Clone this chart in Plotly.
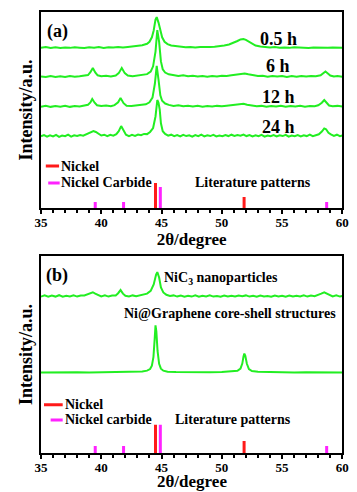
import plotly.graph_objects as go

# ---------------- data ----------------
# XRD patterns: (2theta, intensity above own baseline), panel units
pattern_05h = [(35,0.2),(35.4,0.5),(35.8,0.1),(36.2,0.4),(36.6,0.0),(37,0.3),(37.4,0.1),(37.8,0.4),(38.2,0.2),(38.6,0.0),
               (39,0.4),(39.4,0.2),(39.8,0.5),(40.2,0.1),(40.6,0.4),(41,0.3),(41.4,0.6),(41.8,0.3),(42.2,0.6),(42.6,0.8),
               (43,1.0),(43.4,1.4),(43.8,2.2),(44.0,3.2),(44.2,5.5),(44.35,9.0),(44.5,14.5),(44.6,15.8),(44.75,13.0),(44.9,8.5),
               (45.05,5.5),(45.25,3.2),(45.5,2.0),(45.8,1.3),(46.2,0.9),(46.6,0.7),(47,0.4),(47.4,0.6),(47.8,0.3),(48.2,0.5),
               (48.6,0.4),(49,0.6),(49.4,0.7),(49.8,0.9),(50.2,1.3),(50.6,1.8),(51.0,2.6),(51.3,3.6),(51.55,4.4),(51.8,4.6),
               (52.0,4.2),(52.25,3.3),(52.5,2.2),(52.8,1.3),(53.2,0.8),(53.6,0.5),(54,0.3),(54.4,0.5),(54.8,0.2),(55.2,0.3),
               (55.6,0.1),(56,0.4),(56.4,0.2),(56.8,0.3),(57.2,0.0),(57.6,0.3),(58,0.2),(58.4,0.4),(58.8,0.1),(59.2,0.3),
               (59.6,0.2),(60,0.1)]

pattern_6h = [(35,0.3),(35.4,0.0),(35.8,0.5),(36.2,0.1),(36.6,0.4),(37,0.0),(37.4,0.5),(37.8,0.2),(38.2,0.4),(38.6,0.6),
              (38.9,1.0),(39.1,2.5),(39.3,4.6),(39.5,2.4),(39.7,0.9),(40.0,0.4),(40.4,0.7),(40.8,0.3),(41.2,0.8),(41.45,2.0),
              (41.7,4.6),(41.95,2.0),(42.2,0.8),(42.6,0.4),(43.0,0.8),(43.4,0.9),(43.8,1.5),(44.1,2.8),(44.3,5.5),(44.5,13.0),
              (44.65,24.0),(44.8,18.0),(44.95,8.0),(45.1,4.0),(45.3,2.3),(45.6,1.4),(46.0,0.8),(46.4,0.5),(46.8,0.9),(47.2,0.4),
              (47.6,0.7),(48.0,0.3),(48.4,0.6),(48.8,0.2),(49.2,0.6),(49.6,0.3),(50.0,0.7),(50.4,0.5),(50.8,0.9),(51.2,1.1),
              (51.6,1.5),(51.9,1.8),(52.2,1.4),(52.6,0.9),(53.0,0.5),(53.4,0.7),(53.8,0.2),(54.2,0.6),(54.6,0.3),(55.0,0.5),
              (55.4,0.1),(55.8,0.5),(56.2,0.2),(56.6,0.6),(57.0,0.3),(57.4,0.5),(57.8,0.4),(58.2,0.9),(58.45,2.0),(58.6,2.8),
              (58.8,1.8),(59.0,0.8),(59.3,0.3),(59.6,0.6),(60,0.2)]

pattern_12h = [(35,0.2),(35.4,0.6),(35.8,0.1),(36.2,0.5),(36.6,0.2),(37,0.6),(37.4,0.1),(37.8,0.5),(38.2,0.3),(38.6,0.7),
               (38.9,1.2),(39.1,2.4),(39.25,4.1),(39.45,2.2),(39.65,0.9),(40.0,0.5),(40.4,0.8),(40.8,0.4),(41.1,1.0),(41.4,2.4),
               (41.6,4.6),(41.85,2.0),(42.1,0.7),(42.5,0.5),(42.9,0.9),(43.3,1.0),(43.7,1.4),(44.0,2.4),(44.25,4.8),(44.45,12.0),
               (44.6,21.0),(44.75,14.0),(44.9,6.0),(45.05,3.2),(45.3,1.8),(45.6,1.1),(46.0,0.6),(46.4,0.9),(46.8,0.4),(47.2,0.7),
               (47.6,0.3),(48.0,0.6),(48.4,0.2),(48.8,0.5),(49.2,0.3),(49.6,0.6),(50.0,0.4),(50.4,0.7),(50.8,0.9),(51.2,1.1),
               (51.5,1.4),(51.8,1.7),(52.1,1.2),(52.5,0.7),(52.9,0.4),(53.3,0.6),(53.7,0.2),(54.1,0.5),(54.5,0.3),(54.9,0.6),
               (55.3,0.2),(55.7,0.5),(56.1,0.3),(56.5,0.6),(56.9,0.2),(57.3,0.5),(57.7,0.4),(58.0,0.9),(58.3,2.2),(58.5,3.6),
               (58.7,1.9),(58.9,0.8),(59.2,0.4),(59.6,0.6),(60,0.3)]

pattern_24h = [(35,0.4),(35.25,1.0),(35.5,0.2),(35.75,0.9),(36.0,0.3),(36.25,1.1),(36.5,0.1),(36.75,0.8),(37.0,0.4),(37.25,1.2),
               (37.5,0.2),(37.75,0.9),(38.0,0.5),(38.25,1.0),(38.5,0.7),(38.75,1.4),(39.0,2.2),(39.2,2.9),(39.35,3.1),(39.55,2.6),
               (39.75,1.6),(40.0,0.8),(40.25,1.2),(40.5,0.4),(40.75,1.1),(41.0,0.7),(41.25,1.5),(41.45,3.0),(41.65,5.6),(41.85,3.0),
               (42.05,1.2),(42.3,0.5),(42.55,1.1),(42.8,0.6),(43.05,1.3),(43.3,0.9),(43.55,1.6),(43.8,1.5),(44.05,2.6),(44.3,4.6),
               (44.5,10.5),(44.65,18.9),(44.75,17.5),(44.85,14.0),(44.95,7.0),(45.1,3.0),(45.3,1.6),(45.55,0.7),(45.8,1.2),(46.05,0.4),
               (46.3,1.0),(46.55,0.3),(46.8,1.1),(47.05,0.5),(47.3,0.9),(47.55,0.2),(47.8,1.0),(48.05,0.4),(48.3,1.2),(48.55,0.3),
               (48.8,0.9),(49.05,0.5),(49.3,1.1),(49.55,0.3),(49.8,0.8),(50.05,0.4),(50.3,1.0),(50.55,0.5),(50.8,1.2),(51.05,0.6),
               (51.3,1.0),(51.55,0.7),(51.8,1.3),(52.05,0.5),(52.3,1.0),(52.55,0.3),(52.8,0.9),(53.05,0.4),(53.3,1.1),(53.55,0.2),
               (53.8,0.8),(54.05,0.4),(54.3,1.0),(54.55,0.3),(54.8,0.9),(55.05,0.5),(55.3,1.1),(55.55,0.2),(55.8,0.8),(56.05,0.4),
               (56.3,1.0),(56.55,0.3),(56.8,0.9),(57.05,0.5),(57.3,1.2),(57.55,0.4),(57.8,1.0),(58.05,1.4),(58.3,2.8),(58.5,4.4),
               (58.65,4.0),(58.85,2.2),(59.05,1.4),(59.3,0.6),(59.55,1.2),(59.8,0.4),(60,0.8)]

pattern_nic3 = [(35,0.3),(35.3,0.9),(35.6,0.2),(35.9,0.8),(36.2,0.3),(36.5,1.0),(36.8,0.2),(37.1,0.7),(37.4,0.4),(37.7,0.9),
                (38.0,0.3),(38.3,0.8),(38.6,0.9),(38.9,1.6),(39.1,2.3),(39.3,2.5),(39.5,1.8),(39.75,1.0),(40.0,0.4),(40.3,0.9),
                (40.6,0.3),(40.9,0.8),(41.2,0.9),(41.4,2.0),(41.6,3.6),(41.8,1.8),(42.0,0.7),(42.3,0.4),(42.6,0.9),(42.9,0.5),
                (43.2,1.0),(43.5,1.2),(43.8,1.8),(44.1,3.2),(44.35,6.5),(44.55,11.5),(44.65,12.7),(44.8,10.0),(44.95,5.0),(45.15,2.4),
                (45.4,1.2),(45.7,0.6),(46.0,0.9),(46.3,0.3),(46.6,0.8),(46.9,0.2),(47.2,0.7),(47.5,0.3),(47.8,0.9),(48.1,0.2),
                (48.4,0.7),(48.7,0.4),(49.0,0.9),(49.3,0.3),(49.6,0.6),(49.9,0.2),(50.2,0.8),(50.5,0.4),(50.8,0.7),(51.1,0.3),
                (51.4,0.8),(51.7,0.5),(52.0,0.9),(52.3,0.3),(52.6,0.7),(52.9,0.2),(53.2,0.8),(53.5,0.3),(53.8,0.6),(54.1,0.2),
                (54.4,0.8),(54.7,0.4),(55.0,0.7),(55.3,0.2),(55.6,0.8),(55.9,0.3),(56.2,0.7),(56.5,0.4),(56.8,0.9),(57.1,0.3),
                (57.4,0.8),(57.7,0.5),(58.0,1.0),(58.25,1.8),(58.5,2.5),(58.7,1.9),(58.9,0.9),(59.2,0.4),(59.5,0.9),(59.8,0.3),
                (60,0.6)]

pattern_nigr = [(35,0.1),(36,0.2),(37,0.1),(38,0.2),(39,0.1),(40,0.2),(41,0.2),(42,0.3),(42.8,0.4),(43.4,0.6),
                (43.8,1.0),(44.05,1.8),(44.2,3.5),(44.33,8.0),(44.43,17.0),(44.5,24.0),(44.57,21.0),(44.67,11.0),(44.8,4.5),(44.95,2.0),
                (45.15,1.0),(45.5,0.5),(46.2,0.3),(47,0.2),(48,0.2),(49,0.2),(50,0.3),(50.8,0.5),(51.3,0.9),(51.55,2.0),
                (51.7,4.6),(51.8,8.2),(51.87,9.7),(51.95,8.5),(52.08,4.5),(52.25,1.8),(52.5,0.8),(53,0.4),(54,0.2),(55,0.2),
                (56,0.1),(57,0.2),(58,0.1),(59,0.2),(60,0.1)]

labels_a = ["0.5 h", "6 h", "12 h", "24 h"]
offsets_a = [81.6, 66.8, 51.5, 36.2]
labels_b = ["NiC<sub>3</sub> nanoparticles", "Ni@Graphene core-shell structures"]
offsets_b = [79.1, 40.8]

# literature stick patterns
nickel_pos = [44.5, 51.85]
nickel_h_a = [12.8, 5.6]
nickel_h_b = [14.3, 6.1]
carbide_pos = [39.5, 41.85, 44.9, 58.7]
carbide_h_a = [3.1, 3.1, 10.7, 3.1]
carbide_h_b = [3.6, 3.6, 14.3, 3.6]

x_ticks = [35, 40, 45, 50, 55, 60]
x_title = "2θ/degree"

# ---------------- figure ----------------
GREEN = "#22ee22"
RED = "#ff1a1a"
MAG = "#ff22ff"
FONT = "Liberation Serif"

fig = go.Figure()


def add_pattern(pat, off, xa, ya):
    xs = [p[0] for p in pat]
    ys = [p[1] + off for p in pat]
    fig.add_trace(go.Scatter(x=xs, y=ys, mode="lines", line=dict(color=GREEN, width=2),
                             xaxis=xa, yaxis=ya, showlegend=False, hoverinfo="skip"))


def add_sticks(pos, hts, color, xa, ya):
    xs, ys = [], []
    for p, h in zip(pos, hts):
        xs += [p, p, None]
        ys += [0, h, None]
    fig.add_trace(go.Scatter(x=xs, y=ys, mode="lines", line=dict(color=color, width=3),
                             xaxis=xa, yaxis=ya, showlegend=False, hoverinfo="skip"))


for pat, off in zip([pattern_05h, pattern_6h, pattern_12h, pattern_24h], offsets_a):
    add_pattern(pat, off, "x", "y")
for pat, off in zip([pattern_nic3, pattern_nigr], offsets_b):
    add_pattern(pat, off, "x2", "y2")

add_sticks(nickel_pos, nickel_h_a, RED, "x", "y")
add_sticks(carbide_pos, carbide_h_a, MAG, "x", "y")
add_sticks(nickel_pos, nickel_h_b, RED, "x2", "y2")
add_sticks(carbide_pos, carbide_h_b, MAG, "x2", "y2")

# the page body has an 8 px margin, so the figure is sized to the visible area
PAD = 8
W, H = 357 - PAD, 492 - PAD
xdom = [(35 - PAD) / W, (348 - PAD) / W]
ydom_a = [1 - (208 - PAD) / H, 1 - (12 - PAD) / H]
ydom_b = [1 - (453 - PAD) / H, 1 - (256 - PAD) / H]

xax = dict(range=[35, 60], tickvals=x_ticks, ticks="outside", ticklen=4, tickwidth=2, tickcolor="black",
           showline=True, linewidth=2, linecolor="black", mirror=True, showgrid=False, zeroline=False,
           tickfont=dict(family=FONT, size=13, color="black", weight="bold"),
           ticklabelstandoff=-3, ticklabeloverflow="allow",
           minor=dict(dtick=1, ticks="outside", ticklen=3, tickwidth=1.5, tickcolor="black", showgrid=False),
           domain=xdom, fixedrange=True)
yax = dict(range=[0, 100], showticklabels=False, ticks="", showline=True, linewidth=2, linecolor="black",
           mirror=True, showgrid=False, zeroline=False,
           title=dict(text="Intensity/a.u.", font=dict(family=FONT, size=18, color="black", weight="bold"), standoff=2),
           fixedrange=True)

fig.update_layout(
    width=W, height=H, autosize=False,
    margin=dict(l=0, r=0, t=0, b=0),
    paper_bgcolor="white", plot_bgcolor="white",
    xaxis=dict(xax, anchor="y",
               title=dict(text=x_title, font=dict(family=FONT, size=17, color="black", weight="bold"), standoff=5)),
    yaxis=dict(yax, domain=ydom_a, anchor="x"),
    xaxis2=dict(xax, anchor="y2"),
    yaxis2=dict(yax, domain=ydom_b, anchor="x2"),
    showlegend=False,
)

ann = []


def txt(text, x, y, xr, yr, size, xanchor="center"):
    ann.append(dict(text=text, x=x, y=y, xref=xr, yref=yr, showarrow=False, xanchor=xanchor, yanchor="middle",
                    font=dict(family=FONT, size=size, color="black", weight="bold")))


# panel (a)
txt("(a)", 36.36, 89.8, "x", "y", 18)
for lab, ly in zip(labels_a, [86.2, 72.4, 56.6, 41.3]):
    txt(lab, 54.7, ly, "x", "y", 18)
txt("Nickel", 36.52, 21.4, "x", "y", 14, "left")
txt("Nickel Carbide", 36.52, 12.8, "x", "y", 14, "left")
txt("Literature patterns", 52.57, 12.8, "x", "y", 14)

# panel (b)
txt("(b)", 36.36, 90.3, "x2", "y2", 18)
txt(labels_b[0], 49.94, 88.8, "x2", "y2", 14)
txt(labels_b[1], 50.65, 70.9, "x2", "y2", 14)
txt("Nickel", 36.84, 24.5, "x2", "y2", 14, "left")
txt("Nickel carbide", 36.84, 16.8, "x2", "y2", 14, "left")
txt("Literature patterns", 50.9, 16.8, "x2", "y2", 14)

# x-axis title of panel (b), sitting at the very bottom of the figure
ann.append(dict(text=x_title, x=(xdom[0] + xdom[1]) / 2, y=0, xref="paper", yref="paper", showarrow=False,
                xanchor="center", yanchor="bottom", borderpad=0,
                font=dict(family=FONT, size=17, color="black", weight="bold")))

fig.update_layout(annotations=ann)

# legend sample lines
shapes = [
    dict(type="line", xref="x", yref="y", x0=35.4, x1=36.5, y0=21.4, y1=21.4, line=dict(color=RED, width=3)),
    dict(type="line", xref="x", yref="y", x0=35.6, x1=36.55, y0=12.8, y1=12.8, line=dict(color=MAG, width=3)),
    dict(type="line", xref="x2", yref="y2", x0=35.25, x1=36.8, y0=24.5, y1=24.5, line=dict(color=RED, width=3)),
    dict(type="line", xref="x2", yref="y2", x0=35.8, x1=36.8, y0=16.8, y1=16.8, line=dict(color=MAG, width=3)),
]
fig.update_layout(shapes=shapes)

fig.write_html("out.html")
